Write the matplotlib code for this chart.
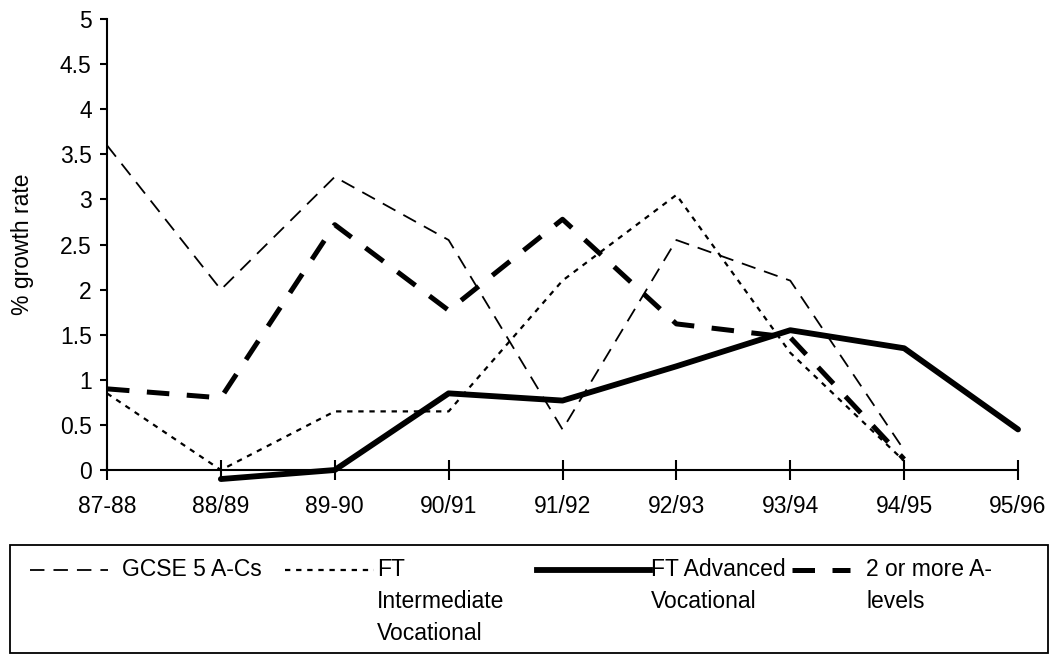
import numpy as np
import matplotlib
matplotlib.use("Agg")
import matplotlib.pyplot as plt
from matplotlib.lines import Line2D

plt.rcParams['font.family'] = ['Liberation Sans', 'DejaVu Sans']

# Data
years = ['87-88', '88/89', '89-90', '90/91', '91/92', '92/93', '93/94', '94/95', '95/96']
gcse = [3.6, 2.0, 3.25, 2.55, 0.45, 2.55, 2.1, 0.22, np.nan]
ft_inter = [0.85, 0.0, 0.65, 0.65, 2.1, 3.05, 1.3, 0.1, np.nan]
ft_adv = [np.nan, -0.1, 0.0, 0.85, 0.77, 1.15, 1.55, 1.35, 0.45]
a_levels = [0.9, 0.8, 2.72, 1.77, 2.78, 1.62, 1.47, 0.12, np.nan]
yticks = [0, 0.5, 1, 1.5, 2, 2.5, 3, 3.5, 4, 4.5, 5]

FS = 16.5

fig = plt.figure(figsize=(10.52, 6.56), dpi=100)
ax = fig.add_axes([0.1017, 0.2835, 0.866, 0.6875])

x = np.arange(len(years))
st_gcse = dict(color='black', lw=1.3, linestyle=(0, (8, 5)))
st_inter = dict(color='black', lw=1.6, linestyle=(0, (2.4, 2.6)))
st_adv = dict(color='black', lw=4.2, linestyle='-')
st_alev = dict(color='black', lw=3.6, linestyle=(0, (4.5, 3.5)))

ax.plot(x, gcse, clip_on=False, **st_gcse)
ax.plot(x, ft_inter, clip_on=False, **st_inter)
ax.plot(x, ft_adv, clip_on=False, solid_capstyle='round', **st_adv)
ax.plot(x, a_levels, clip_on=False, **st_alev)

ax.set_xlim(0, len(years) - 1)
ax.set_ylim(0, 5)
ax.set_xticks(x)
ax.set_xticklabels(years)
ax.set_yticks(yticks)
ax.set_yticklabels(['%g' % v for v in yticks])
ax.set_ylabel('% growth rate', fontsize=FS)
ax.yaxis.set_label_coords(-0.08, 0.5)

for s in ['top', 'right']:
    ax.spines[s].set_visible(False)
for s in ['left', 'bottom']:
    ax.spines[s].set_linewidth(1.5)
ax.tick_params(axis='x', direction='inout', length=14, width=1.5, labelsize=FS, pad=11)
ax.tick_params(axis='y', direction='out', length=5, width=1.5, labelsize=FS, pad=6)

# legend box drawn by hand to match the original layout
W, H = 1052.0, 656.0
def fx(px):
    return px / W
def fy(py):
    return 1 - py / H

box = plt.Rectangle((fx(10), fy(653)), fx(1048) - fx(10), fy(545) - fy(653),
                    transform=fig.transFigure, fill=False, lw=1.3, ec='black')
fig.add_artist(box)

row1, row2, row3 = 570, 602, 633
for (x0, x1), st in [((30, 108), st_gcse), ((285, 374), st_inter),
                     ((537, 650), st_adv), ((792, 850), st_alev)]:
    fig.add_artist(Line2D([fx(x0), fx(x1)], [fy(row1), fy(row1)],
                          transform=fig.transFigure, **st))

tkw = dict(fontsize=FS, va='center', ha='left', transform=fig.transFigure)
fig.text(fx(122), fy(row1), 'GCSE 5 A-Cs', **tkw)
fig.text(fx(377), fy(row1), 'FT', **tkw)
fig.text(fx(377), fy(row2), 'Intermediate', **tkw)
fig.text(fx(377), fy(row3), 'Vocational', **tkw)
fig.text(fx(651), fy(row1), 'FT Advanced', **tkw)
fig.text(fx(651), fy(row2), 'Vocational', **tkw)
fig.text(fx(866), fy(row1), '2 or more A-', **tkw)
fig.text(fx(866), fy(row2), 'levels', **tkw)

fig.savefig('out.png', dpi=100)
